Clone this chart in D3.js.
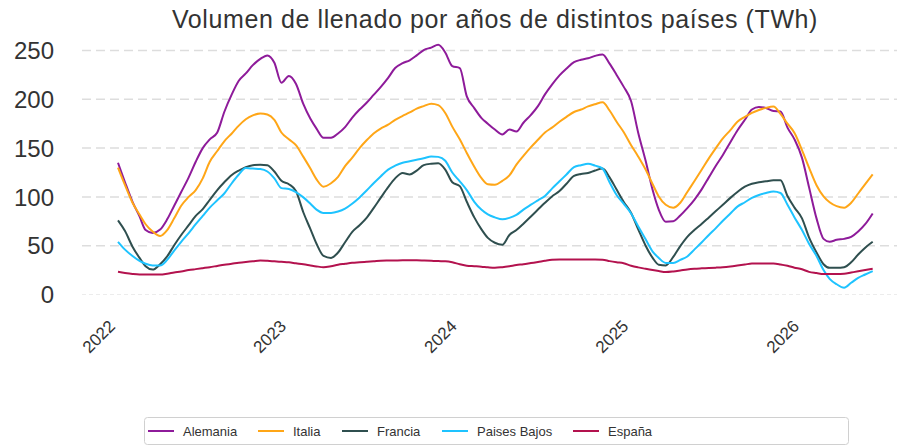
<!DOCTYPE html>
<html>
<head>
<meta charset="utf-8">
<script src="https://cdn.jsdelivr.net/npm/d3@7"></script>
<style>
  body { margin: 0; background: #fff; }
  svg text { font-family: "Liberation Sans", Arial, sans-serif; fill: #333; }
</style>
</head>
<body>
<div id="chart"></div>
<script>
// series names and colours (legend order)
var paises = ["Alemania", "Italia", "Francia", "Paises Bajos", "España"];
var colores = ["#8e1b9a", "#ffa617", "#2f4f4f", "#1ec3ff", "#b3124e"];
var yTicks = [0, 50, 100, 150, 200, 250];
var xTickYears = ["2022", "2023", "2024", "2025", "2026"];

// values read every half month (1st and 16th), Jan 2022 -> Jun 2026
var alemania = [135,115,95,80,66,63,66.5,77,91,105,120,136,150,159,166,187,205,219,226.5,235,241.5,245,237.5,217,224,216,195,180,170,160.5,160.5,165,171.5,181,189.5,196.5,204.5,212.5,222,232,237,240,245,250.5,253,255.8,248,234,232,203,191,181,175,169,164,169,167,176,184,193,205,215,224.5,231.5,238,240.5,242,244.5,246,236.5,225,213,198,166,137,107,87,74.5,75,81,88.5,97,108,120,132,143,156,168,179,189.5,192,191,188,187.6,171,159,140,110,78,57,54,56,57,59,64.5,72,83];
var italia = [130,112,94,82,72,64.5,60,66,78,91,100,107,119,136,147,157,165,173,179.5,183.5,185.5,184.5,179,166,159,153,141,129,118,110.5,114,120.5,131.5,140,150,158,165,170,174,179,183,186.5,190.5,193,195.5,194,186,172,159,145,131,119.5,113,112.5,116.5,122,133,142,151,158.5,166,171,177,182,187,189.5,192.7,195,197,188.5,177,166.5,153,141.5,128,113,100.5,92,89,94,105,116,128,139.5,150,160,168.5,177,182,186,189,191.2,192.5,185,175,165.5,148,130,112,100.5,94.5,90.5,89,94,103.5,113,123];
var francia = [76,65,49,37.5,29,25.5,31,39,50.5,61,71,80.5,87.5,97,107,115,122.5,127,130.5,132.5,133,132.5,126,116.5,113,106,84,67,52,39.5,37.5,43,53.5,64,71,78.5,88.5,99,110,119,124.5,123,127,132.5,134,134.5,128,115,111,95,79,67,58,53,51,61,66,72.5,80,87,94,100.5,106,113.5,121.5,123.5,124.5,127,129,120,107.5,95,83.5,67,50,37.5,30.5,29.8,38.5,49.5,59,66,72.5,79,85.5,92,99,105,110.5,113.5,115,116,117,117,101,89,78,58.5,43,31,27.3,27.3,28,33,41,48,54];
var paisesBajos = [54,46,39.5,34.5,31.5,29.7,29.7,35.5,45,54,63,72,80.5,89,96.5,103.5,114,123,129.5,129,128.5,126,119,109,108,105,99.5,93,87,83.6,83.6,85,88,93,99.5,106.5,114,121,128,132,135,136.5,138,139.5,141.5,141,137,125,116,107,95,87,82,79,77,78.5,81.5,87,92,96.5,101,108.5,116,123,130.5,132.5,134,132,129,115,102,93,83,70,56.5,44,37.5,32.4,32.4,35.5,39,46,53.5,61,68,75.5,83,90,94.5,99,102,104,105.5,104,92,79,66,52,39.5,25,16,10.5,7,12,17,20.5,24];
var espana = [23.2,22,21,20.5,20.5,20.5,20.5,21.3,22.5,23.5,25,26,27,28,29.3,30.5,31.5,32.5,33.3,34,34.8,34.5,34,33.5,33,32,31,29.8,28.8,28,29,30.5,31.5,32.5,33,33.5,34,34.6,34.8,34.9,35,35,35,34.8,34.5,34.2,34,33,31,29.5,29,28.5,27.8,27.3,28,29,30.2,31,32.2,33.3,34.5,35.5,35.8,35.8,35.8,35.8,35.8,35.8,35.7,34.2,33,32,29.5,27.8,26.3,25,24,23,23.6,24.6,25.7,26.4,26.8,27.1,27.5,28,28.8,29.7,30.7,31.7,31.7,31.7,31.7,30.8,29.4,27.5,25.8,23.2,22,21,21,21,21.2,22.5,23.8,25,26.3];

var series = [alemania, italia, francia, paisesBajos, espana];

// half-month dates: 1st and 16th of each month
var fechas = [];
d3.utcMonths(new Date(Date.UTC(2022, 0, 1)), new Date(Date.UTC(2026, 5, 2))).forEach(function(m) {
  fechas.push(m);
  fechas.push(d3.utcDay.offset(m, 15));
});
fechas = fechas.slice(0, alemania.length);

var width = 901, height = 446;
var svg = d3.select("#chart").append("svg")
  .attr("width", width).attr("height", height);

var x = d3.scaleUtc()
  .domain([new Date(Date.UTC(2022, 0, 1)), new Date(Date.UTC(2026, 0, 1))])
  .range([118, 802]);
var y = d3.scaleLinear()
  .domain([0, 250])
  .range([294.5, 50.5]);

// title
svg.append("text")
  .attr("x", 495).attr("y", 28)
  .attr("text-anchor", "middle")
  .style("font-size", "25px")
  .style("letter-spacing", "0.6px")
  .text("Volumen de llenado por años de distintos países (TWh)");

// grid lines
svg.append("g").selectAll("line")
  .data(yTicks)
  .enter().append("line")
    .attr("x1", 82).attr("x2", 897)
    .attr("y1", function(d) { return y(d); })
    .attr("y2", function(d) { return y(d); })
    .attr("stroke", function(d) { return d === 0 ? "#ececec" : "#dddddd"; })
    .attr("stroke-width", function(d) { return d === 0 ? 1 : 1.5; })
    .attr("stroke-dasharray", function(d) { return d === 0 ? "4,3" : "9,5"; });

// y tick labels
svg.append("g").selectAll("text")
  .data(yTicks)
  .enter().append("text")
    .attr("x", 54)
    .attr("y", function(d) { return y(d); })
    .attr("dy", "0.36em")
    .attr("text-anchor", "end")
    .style("font-size", "24px")
    .text(function(d) { return d; });

// x tick labels, rotated
svg.append("g").selectAll("text")
  .data(xTickYears)
  .enter().append("text")
    .attr("transform", function(d) {
      return "translate(" + (x(new Date(Date.UTC(+d, 0, 1))) - 6) + ",323)rotate(-45)";
    })
    .attr("text-anchor", "end")
    .attr("dy", "0.35em")
    .style("font-size", "17px")
    .text(function(d) { return d; });

// lines
var line = d3.line()
  .x(function(d, i) { return x(fechas[i]); })
  .y(function(d) { return y(d); })
  .curve(d3.curveMonotoneX);

svg.append("g").selectAll("path")
  .data(series)
  .enter().append("path")
    .attr("d", line)
    .attr("fill", "none")
    .attr("stroke", function(d, i) { return colores[i]; })
    .attr("stroke-width", 2)
    .attr("stroke-linejoin", "round");

// legend
var legX = [148, 258, 342, 442, 573];
var leg = svg.append("g");
leg.append("rect")
  .attr("x", 144.5).attr("y", 417.5)
  .attr("width", 704).attr("height", 27)
  .attr("rx", 3)
  .attr("fill", "#fff")
  .attr("stroke", "#d0d0d0");
var items = leg.selectAll("g.item")
  .data(paises)
  .enter().append("g")
    .attr("transform", function(d, i) { return "translate(" + legX[i] + ",431)"; });
items.append("line")
  .attr("x1", 0).attr("x2", 26)
  .attr("stroke", function(d, i) { return colores[i]; })
  .attr("stroke-width", 2);
items.append("text")
  .attr("x", 35)
  .attr("dy", "0.35em")
  .style("font-size", "13px")
  .text(function(d) { return d; });
</script>
</body>
</html>
